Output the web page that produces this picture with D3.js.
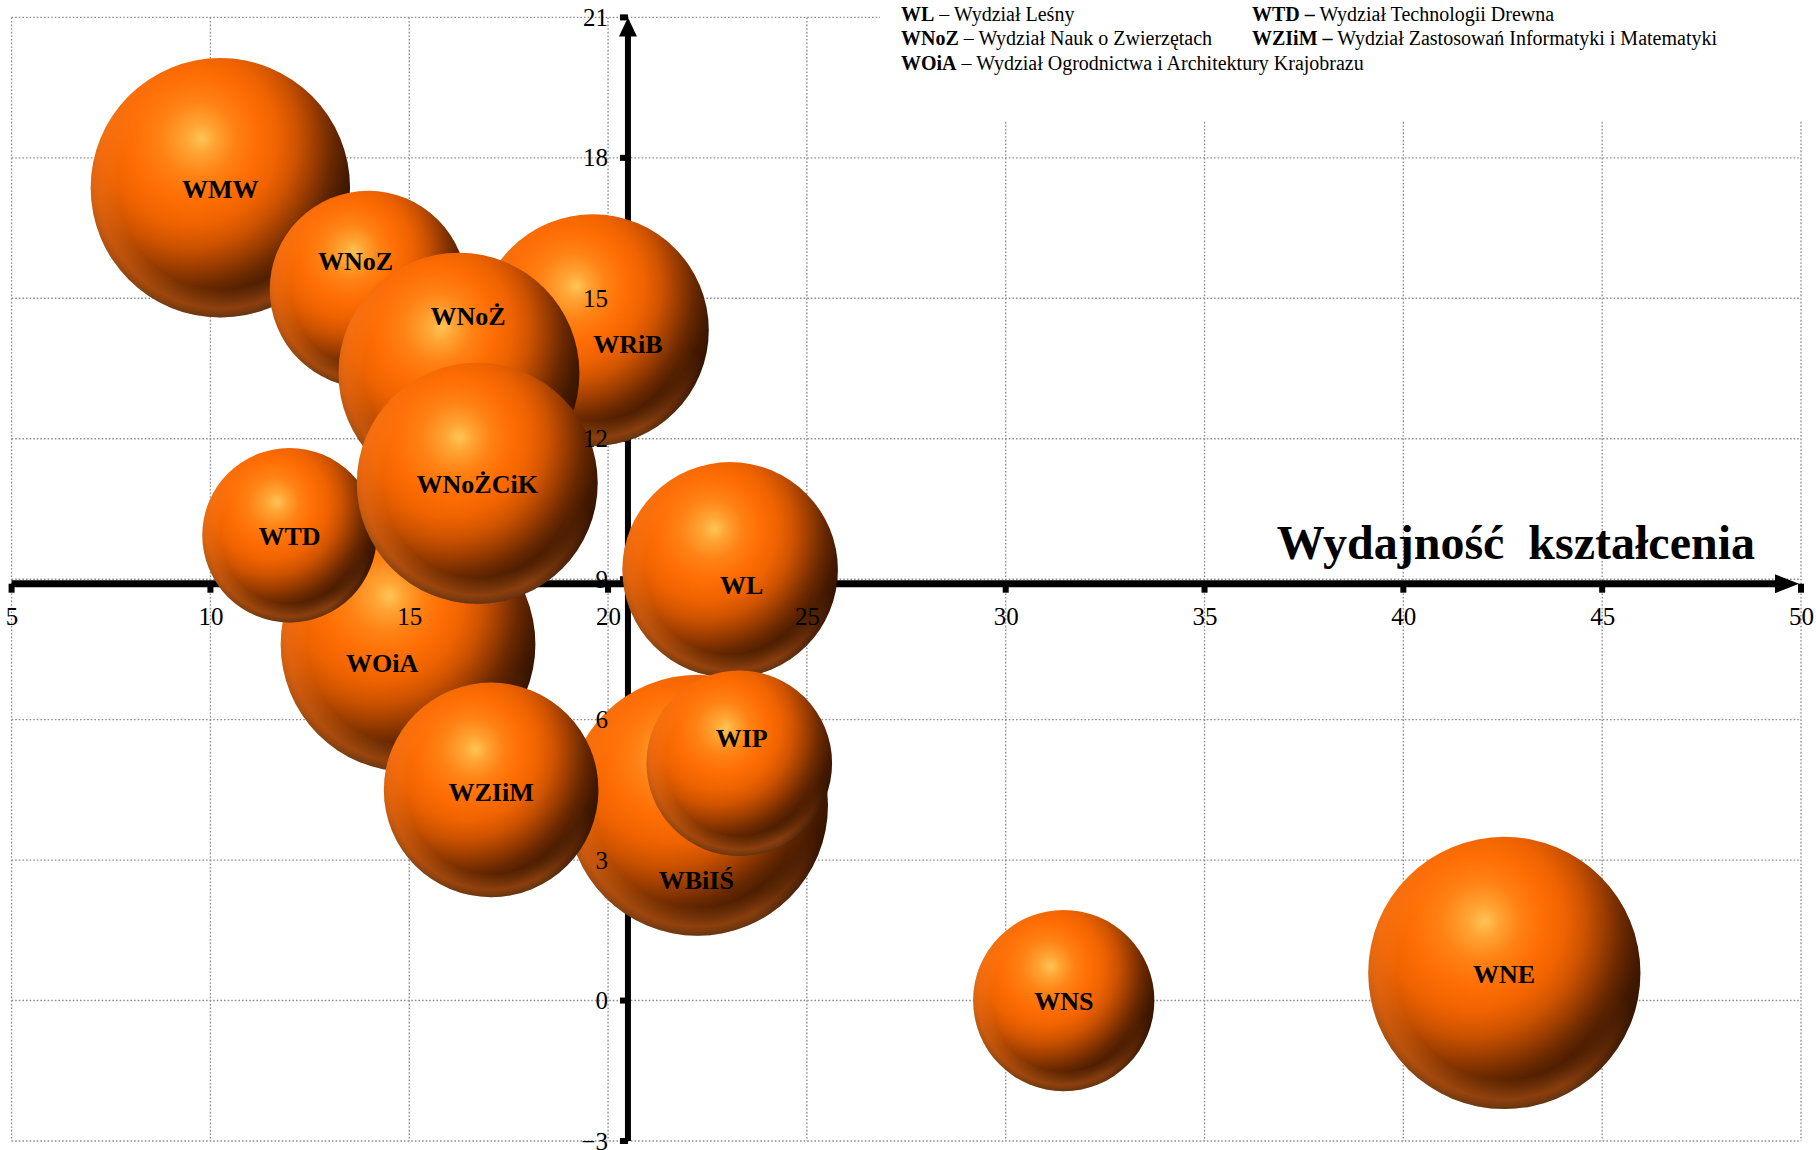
<!DOCTYPE html>
<html>
<head>
<meta charset="utf-8">
<script src="https://cdn.jsdelivr.net/npm/d3@7"></script>
<style>
  html, body { margin: 0; padding: 0; background: #fff; overflow: hidden; }
  svg { display: block; }
</style>
</head>
<body>
<svg id="chart" width="1816" height="1150"></svg>
<script>
// ---- DATA ----
const faculties = ["WMW","WRiB","WNoZ","WNoŻ","WOiA","WTD","WNoŻCiK","WL","WBiIŚ","WZIiM","WIP","WNS","WNE"];
const xValues   = [10.25, 19.62, 13.97, 16.25, 14.97, 11.99, 16.71, 23.07, 22.25, 17.06, 23.30, 31.46, 42.54];
const yValues   = [17.36, 14.32, 15.19, 13.40,  7.61,  9.94, 11.05,  9.20,  4.17,  4.50,  5.07,  0.00,  0.59];
const sizes     = [168, 134, 97, 145, 162, 76, 145, 116, 170, 115, 86, 82, 185];
const labelX    = [10.25, 20.50, 13.65, 16.48, 14.32, 11.99, 16.71, 23.36, 22.22, 17.06, 23.36, 31.46, 42.53];
const labelY    = [17.34, 14.02, 15.80, 14.62,  7.22,  9.92, 11.03,  8.88,  2.57,  4.45,  5.61,  0.00,  0.57];

const xTicks = [5, 10, 15, 20, 25, 30, 35, 40, 45, 50];
const yTicks = [-3, 0, 3, 6, 9, 12, 15, 18, 21];
const axisCrossX = 20.5;   // vertical axis crosses at this x value
const axisCrossY = 9;      // horizontal axis crosses at this y value
const axisTitle = "Wydajność  kształcenia";

const legendCol1 = [
  ["WL", "Wydział Leśny"],
  ["WNoZ", "Wydział Nauk o Zwierzętach"],
  ["WOiA", "Wydział Ogrodnictwa i Architektury Krajobrazu"]
];
const legendCol2 = [
  ["WTD", "Wydział Technologii Drewna"],
  ["WZIiM", "Wydział Zastosowań Informatyki i Matematyki"]
];

// ---- CHART ----
const svg = d3.select("#chart");
const W = 1816, H = 1150;

const x = d3.scaleLinear().domain([5, 50]).range([11.6, 1801]);
const y = d3.scaleLinear().domain([-3, 21]).range([1141, 17.4]);
const r = d3.scaleSqrt().domain([0, 185]).range([0, 136.1]);

svg.append("rect").attr("width", W).attr("height", H).attr("fill", "#fff");

// gradients
const defs = svg.append("defs");
const g1 = defs.append("radialGradient").attr("id", "ball")
  .attr("cx", 0.33).attr("cy", 0.31).attr("r", 0.80).attr("fx", 0.43).attr("fy", 0.31);
[[0, "#FFC555"], [0.07, "#FFA535"], [0.18, "#FF8214"], [0.30, "#FF6E04"], [0.42, "#EE6200"],
 [0.52, "#CE5300"], [0.62, "#9E3E00"], [0.72, "#6A2900"], [0.82, "#431900"], [1, "#220B00"]]
  .forEach(([o, c]) => g1.append("stop").attr("offset", o).attr("stop-color", c));

const g2 = defs.append("radialGradient").attr("id", "rim")
  .attr("cx", 0.5).attr("cy", 0.5).attr("r", 0.5);
[[0, "rgba(255,140,40,0)"], [0.78, "rgba(255,140,40,0)"], [0.93, "rgba(255,120,30,0.42)"], [1, "rgba(255,150,60,0.25)"]]
  .forEach(([o, c]) => g2.append("stop").attr("offset", o).attr("stop-color", c));

const g3 = defs.append("linearGradient").attr("id", "rimMask")
  .attr("x1", 0).attr("y1", 1).attr("x2", 1).attr("y2", 0);
[[0, "#fff"], [0.40, "#fff"], [0.68, "#000"], [1, "#000"]]
  .forEach(([o, c]) => g3.append("stop").attr("offset", o).attr("stop-color", c));
defs.append("mask").attr("id", "rm").attr("maskContentUnits", "objectBoundingBox")
  .append("rect").attr("width", 1).attr("height", 1).attr("fill", "url(#rimMask)");

// grid
const grid = svg.append("g").attr("stroke", "#8f8f8f").attr("stroke-width", 1.4)
  .attr("stroke-dasharray", "1.6,2");
grid.selectAll("line.v").data(xTicks).join("line").attr("class", "v")
  .attr("x1", d => x(d)).attr("x2", d => x(d)).attr("y1", y(21)).attr("y2", y(-3));
grid.selectAll("line.h").data(yTicks).join("line").attr("class", "h")
  .attr("x1", x(5)).attr("x2", x(50)).attr("y1", d => y(d)).attr("y2", d => y(d));

// legend backdrop
svg.append("rect").attr("x", 880).attr("y", 0).attr("width", W - 880).attr("height", 120).attr("fill", "#fff");

// axes lines
const ax = svg.append("g");
const ay0 = y(axisCrossY) + 4.5;
const ax0 = x(axisCrossX);
ax.append("line").attr("x1", x(5)).attr("x2", x(50) - 20).attr("y1", ay0).attr("y2", ay0)
  .attr("stroke", "#000").attr("stroke-width", 7);
ax.append("path").attr("d", `M${x(50) - 26},${ay0 - 9.5} L${x(50) - 2},${ay0} L${x(50) - 26},${ay0 + 9.5} Z`).attr("fill", "#000");
ax.selectAll("rect.xt").data(xTicks).join("rect").attr("class", "xt")
  .attr("x", d => x(d) - 3).attr("y", ay0).attr("width", 6).attr("height", 9).attr("fill", "#000");

ax.append("line").attr("x1", ax0).attr("x2", ax0).attr("y1", y(-3)).attr("y2", y(21) + 16)
  .attr("stroke", "#000").attr("stroke-width", 6);
ax.append("path").attr("d", `M${ax0 - 9},${y(21) + 19} L${ax0},${y(21)} L${ax0 + 9},${y(21) + 19} Z`).attr("fill", "#000");
ax.selectAll("rect.yt").data(yTicks).join("rect").attr("class", "yt")
  .attr("x", ax0 - 8).attr("y", d => y(d) - 3).attr("width", 8).attr("height", 6).attr("fill", "#000");

// bubbles
const data = faculties.map((f, i) => ({ f, x: xValues[i], y: yValues[i], s: sizes[i], lx: labelX[i], ly: labelY[i] }));
const bub = svg.append("g");
data.forEach(d => {
  const g = bub.append("g");
  g.append("circle").attr("cx", x(d.x)).attr("cy", y(d.y)).attr("r", r(d.s)).attr("fill", "url(#ball)");
  g.append("circle").attr("cx", x(d.x)).attr("cy", y(d.y)).attr("r", r(d.s)).attr("fill", "url(#rim)")
    .attr("mask", "url(#rm)");
});

// bubble labels
svg.append("g").selectAll("text").data(data).join("text")
  .attr("x", d => x(d.lx)).attr("y", d => y(d.ly)).attr("dy", "0.35em")
  .attr("text-anchor", "middle")
  .attr("font-family", "'Liberation Serif', 'Times New Roman', serif")
  .attr("font-weight", "bold").attr("font-size", 26).attr("fill", "#000")
  .text(d => d.f);

// tick labels (on top)
const xAxis = d3.axisBottom(x).tickValues(xTicks).tickSize(0).tickPadding(28).tickFormat(d3.format("d"));
const gx = svg.append("g").attr("transform", `translate(0,${y(axisCrossY)})`).call(xAxis);
gx.select(".domain").remove();
gx.selectAll("text").attr("font-family", "'Liberation Serif', 'Times New Roman', serif")
  .attr("font-size", 25).attr("fill", "#000");

const yAxis = d3.axisLeft(y).tickValues(yTicks).tickSize(0).tickPadding(20).tickFormat(d3.format("d"));
const gy = svg.append("g").attr("transform", `translate(${ax0},0)`).call(yAxis);
gy.select(".domain").remove();
gy.selectAll("text").attr("font-family", "'Liberation Serif', 'Times New Roman', serif")
  .attr("font-size", 25).attr("fill", "#000");

// axis title
svg.append("text").attr("x", 1755).attr("y", 559).attr("text-anchor", "end")
  .attr("font-family", "'Liberation Serif', 'Times New Roman', serif")
  .attr("font-weight", "bold").attr("font-size", 48).attr("fill", "#000")
  .style("white-space", "pre").attr("xml:space", "preserve")
  .text(axisTitle);

// legend
function legendCol(items, x0, boldDash) {
  items.forEach((it, i) => {
    const t = svg.append("text").attr("x", x0).attr("y", 21 + i * 24.4)
      .attr("font-family", "'Liberation Serif', 'Times New Roman', serif")
      .attr("font-size", 20).attr("fill", "#000").attr("xml:space", "preserve");
    t.append("tspan").attr("font-weight", "bold").text(it[0] + (boldDash ? " –" : ""));
    t.append("tspan").text((boldDash ? " " : " – ") + it[1]);
  });
}
legendCol(legendCol1, 901, false);
legendCol(legendCol2, 1252, true);
</script>
</body>
</html>
